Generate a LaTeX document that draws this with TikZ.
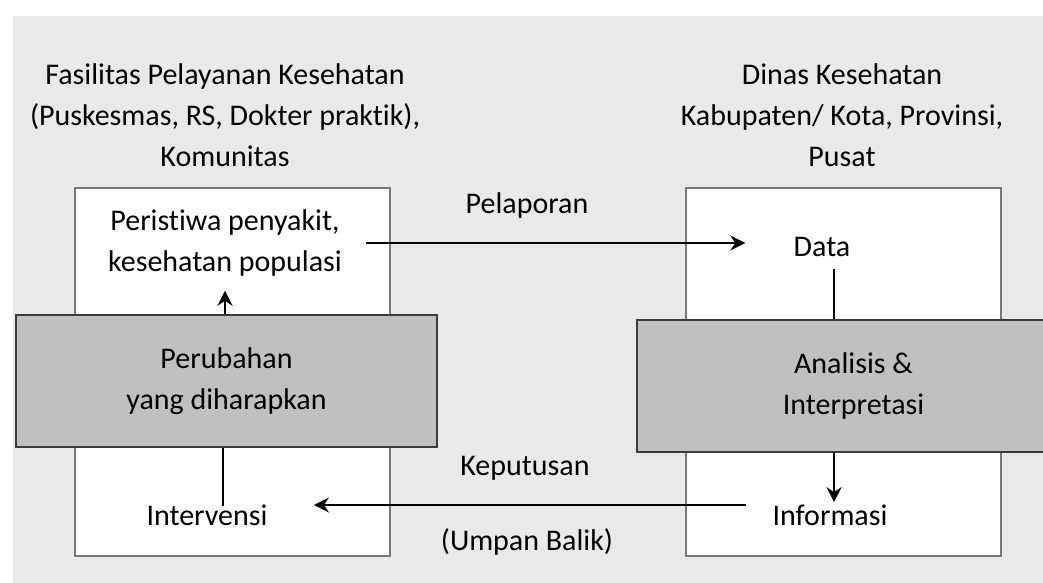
\documentclass[tikz,border=0pt]{standalone}
\usepackage{fontspec}
\setmainfont[Ligatures=NoCommon]{Carlito}
\usetikzlibrary{arrows, arrows.meta, positioning}
\definecolor{my_bg}{RGB}{233, 233, 233}
\definecolor{my_gray}{RGB}{192, 192, 192}
\definecolor{my_frame}{RGB}{120, 120, 120}
\definecolor{my_dark}{RGB}{60, 60, 60}
\tikzset {
  whitebox/.style = {draw=my_frame, line width=1pt, fill=white, rectangle, minimum width=157.5pt, minimum height=184pt},
  graybox/.style = {draw=my_dark, line width=1pt, fill=my_gray, rectangle, text centered, align=center, font=\mytext, minimum height=66pt},
  txt/.style = {align=center, font=\mytext, inner sep=2pt},
  line/.style = {->, line width=1pt, color=black, >={Stealth[length=7.5pt, width=7.5pt, inset=2.5pt]}},
  plainline/.style = {line width=1pt, color=black}
}
\newcommand{\mytext}{\fontsize{15}{20.5}\selectfont}
\begin{document}
\begin{tikzpicture}[x=0.5pt, y=-0.5pt]
    \useasboundingbox (0,0) rectangle (1043,583);
    \fill[my_bg] (13,16) rectangle (1043,583);

    % headers
    \node[txt] (facility) at (225,115) {Fasilitas Pelayanan Kesehatan\\(Puskesmas, RS, Dokter praktik),\\Komunitas};
    \node[txt] (office) at (842,115) {Dinas Kesehatan\\Kabupaten/ Kota, Provinsi,\\Pusat};

    % boxes
    \node[whitebox] (lbox) at (232.5,372) {};
    \node[whitebox] (rbox) at (843.5,372) {};
    \node[graybox, minimum width=210.5pt] (change) at (226.5,381) {Perubahan\\yang diharapkan};
    \node[graybox, minimum width=204.5pt] (analysis) at (841.5,386) {\hspace*{12pt}Analisis \&\\\hspace*{12pt}Interpretasi};

    \node[txt] (event) at (225,243) {Peristiwa penyakit,\\kesehatan populasi};
    \node[txt] (intervention) at (207,515) {Intervensi};
    \node[txt] (data) at (822,247) {Data};
    \node[txt] (info) at (830,515) {Informasi};

    \node[txt] (report) at (527,205) {Pelaporan};
    \node[txt] (decision) at (525,468) {Keputusan};
    \node[txt] (feedback) at (527,542) {(Umpan Balik)};

    \draw[line, shorten <=10pt, shorten >=22pt] (event.east) -- (event.east -| data.west);
    \draw[line, shorten <=11pt, shorten >=21pt] ([yshift=5pt]info.west) -- ([yshift=5pt]info.west -| intervention.east);
    \draw[line] (change.north -| event) -- ([yshift=-5pt]event.south);
    \draw[plainline] ([xshift=-2pt]change.south) -- ([xshift=-2pt,yshift=-3pt]change.south |- intervention.north);
    \draw[plainline] ([xshift=6pt,yshift=-4pt]data.south) -- ([xshift=6pt]data.south |- analysis.north);
    \draw[line] ([xshift=6pt]data.south |- analysis.south) -- ([xshift=6pt,yshift=-1pt]data.south |- info.north);

\end{tikzpicture}
\end{document}
